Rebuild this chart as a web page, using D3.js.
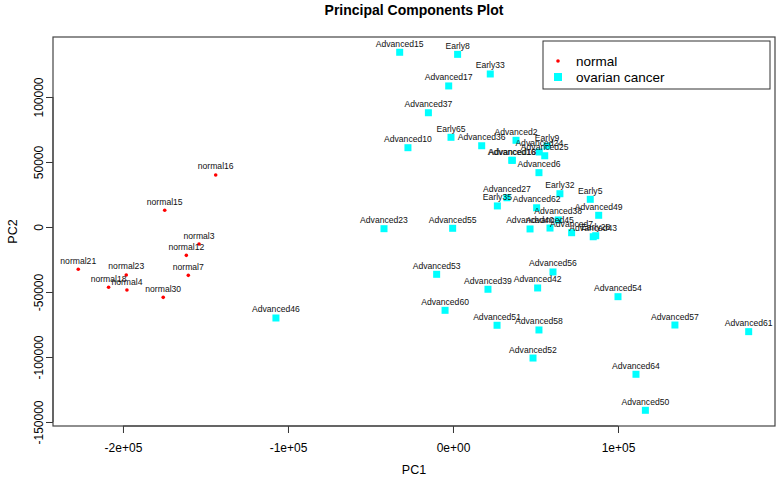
<!DOCTYPE html>
<html>
<head>
<meta charset="utf-8">
<script src="https://cdn.jsdelivr.net/npm/d3@7"></script>
<style>
  body { margin: 0; background: #fff; }
  svg { font-family: "Liberation Sans", Arial, sans-serif; }
</style>
</head>
<body>
<div class="interactive-wrapper"></div>
<script>
// samples
const normalNames = ["normal16", "normal15", "normal3", "normal12", "normal7", "normal21", "normal23", "normal18", "normal4", "normal30"];
const normalPC1 = [-143800, -174700, -153900, -161600, -160400, -227100, -198000, -208700, -197600, -175600];
const normalPC2 = [40000, 12900, -13100, -21800, -37200, -32500, -36900, -46400, -48500, -54100];

const cancerNames = [
  "Advanced15", "Early8", "Early33", "Advanced17", "Advanced37", "Early65", "Advanced10", "Advanced36",
  "Advanced2", "Early9", "Advanced24", "Advanced25", "Advanced16", "Advanced18", "Advanced6",
  "Early32", "Early5", "Advanced27", "Early35", "Advanced62", "Advanced38", "Advanced49",
  "Advanced23", "Advanced55", "Advanced40", "Advanced45", "Advanced7", "Advanced43", "Early28",
  "Advanced53", "Advanced56", "Advanced39", "Advanced42", "Advanced60", "Advanced51", "Advanced58",
  "Advanced54", "Advanced57", "Advanced61", "Advanced64", "Advanced50", "Advanced46", "Advanced52"
];
const cancerPC1 = [
  -32300, 2800, 22600, -2600, -14900, -1200, -27300, 17400,
  38200, 57000, 52300, 55600, 35600, 36000, 52100,
  64800, 83200, 32700, 26900, 50700, 63800, 88300,
  -41800, -200, 46700, 58800, 71900, 85000, 86500,
  -9900, 60600, 21200, 51300, -4800, 26700, 52100,
  100000, 134500, 179200, 110900, 116600, -107300, 48500
];
const cancerPC2 = [
  134400, 132800, 117700, 108500, 87900, 69000, 61000, 62500,
  66700, 62300, 57700, 54800, 51300, 51300, 41800,
  25600, 21300, 22500, 16200, 14800, 5400, 9000,
  -1300, -1000, -1500, -800, -4400, -7500, -6700,
  -36400, -34600, -47900, -46900, -64100, -75600, -79200,
  -53600, -75400, -80500, -113300, -141000, -70000, -100800
];

const xTicks = [-200000, -100000, 0, 100000];
const xTickLabels = ["-2e+05", "-1e+05", "0e+00", "1e+05"];
const yTicks = [-150000, -100000, -50000, 0, 50000, 100000];
const yTickLabels = ["-150000", "-100000", "-50000", "0", "50000", "100000"];

const legendLabels = ["normal", "ovarian cancer"];
const colors = ["#ff0000", "#00ffff"];

let width = 778;
let height = 478;
let box = { left: 53, right: 775, top: 37, bottom: 426 };

let svg = d3.select(".interactive-wrapper")
.append("svg")
.attr("width", width)
.attr("height", height);

let x = d3.scaleLinear()
.domain([-242400, 195150])
.range([box.left, box.right]);

let y = d3.scaleLinear()
.domain([-153080, 146150])
.range([box.bottom, box.top]);

// title
svg.append("text")
.attr("x", (box.left + box.right) / 2)
.attr("y", 15)
.attr("text-anchor", "middle")
.style("font-size", "14px")
.style("font-weight", "bold")
.text("Principal Components Plot");

// axes
let xAxis = svg.append("g")
.attr("transform", `translate(0,${box.bottom})`)
.call(d3.axisBottom(x).tickValues(xTicks).tickSize(7).tickFormat((d, i) => xTickLabels[i]));

xAxis.select(".domain")
.attr("d", `M${x(xTicks[0])},0H${x(xTicks[xTicks.length - 1])}`);

xAxis.selectAll("text")
.attr("y", 26)
.attr("dy", "0")
.style("font-size", "12px")
.style("fill", "#000");

let yAxis = svg.append("g")
.attr("transform", `translate(${box.left},0)`)
.call(d3.axisLeft(y).tickValues(yTicks).tickSize(7).tickFormat((d, i) => yTickLabels[i]));

yAxis.select(".domain")
.attr("d", `M0,${y(yTicks[0])}V${y(yTicks[yTicks.length - 1])}`);

yAxis.selectAll("text")
.attr("x", 0)
.attr("dy", "0")
.attr("text-anchor", "middle")
.attr("transform", d => `translate(-10,${0}) rotate(-90)`)
.style("font-size", "12px")
.style("fill", "#000");

svg.selectAll(".tick line").style("stroke", "#333");
svg.selectAll(".domain").style("stroke", "#333");

svg.append("text")
.attr("x", (box.left + box.right) / 2)
.attr("y", 474)
.attr("text-anchor", "middle")
.style("font-size", "12.5px")
.text("PC1");

svg.append("text")
.attr("transform", `translate(17,${(box.top + box.bottom) / 2}) rotate(-90)`)
.attr("text-anchor", "middle")
.style("font-size", "12.5px")
.text("PC2");

// plot frame
svg.append("rect")
.attr("x", box.left)
.attr("y", box.top)
.attr("width", box.right - box.left)
.attr("height", box.bottom - box.top)
.style("fill", "none")
.style("stroke", "#444")
.style("stroke-width", 1.2);

let normals = normalNames.map((n, i) => ({ name: n, pc1: normalPC1[i], pc2: normalPC2[i] }));
let cancers = cancerNames.map((n, i) => ({ name: n, pc1: cancerPC1[i], pc2: cancerPC2[i] }));

svg.selectAll("rect.cancer")
.data(cancers)
.enter()
.append("rect")
.attr("class", "cancer")
.attr("x", d => x(d.pc1) - 3.5)
.attr("y", d => y(d.pc2) - 3.5)
.attr("width", 7)
.attr("height", 7)
.style("fill", colors[1]);

svg.selectAll("circle.normal")
.data(normals)
.enter()
.append("circle")
.attr("class", "normal")
.attr("cx", d => x(d.pc1))
.attr("cy", d => y(d.pc2))
.attr("r", 1.8)
.style("fill", colors[0]);

svg.selectAll("text.lab")
.data(normals.concat(cancers))
.enter()
.append("text")
.attr("class", "lab")
.attr("x", d => x(d.pc1))
.attr("y", d => y(d.pc2) - 5.5)
.attr("text-anchor", "middle")
.style("font-size", "8.6px")
.style("fill", "#111")
.text(d => d.name);

// legend
let legend = svg.append("g")
.attr("transform", "translate(543,41)");

legend.append("rect")
.attr("width", 227)
.attr("height", 48)
.style("fill", "#fff")
.style("stroke", "#333")
.style("stroke-width", 1);

legend.append("circle")
.attr("cx", 15)
.attr("cy", 20)
.attr("r", 1.8)
.style("fill", colors[0]);

legend.append("rect")
.attr("x", 11)
.attr("y", 32)
.attr("width", 8)
.attr("height", 8)
.style("fill", colors[1]);

legend.selectAll("text")
.data(legendLabels)
.enter()
.append("text")
.attr("x", 33)
.attr("y", (d, i) => 25 + i * 16)
.style("font-size", "13.5px")
.text(d => d);
</script>
</body>
</html>
